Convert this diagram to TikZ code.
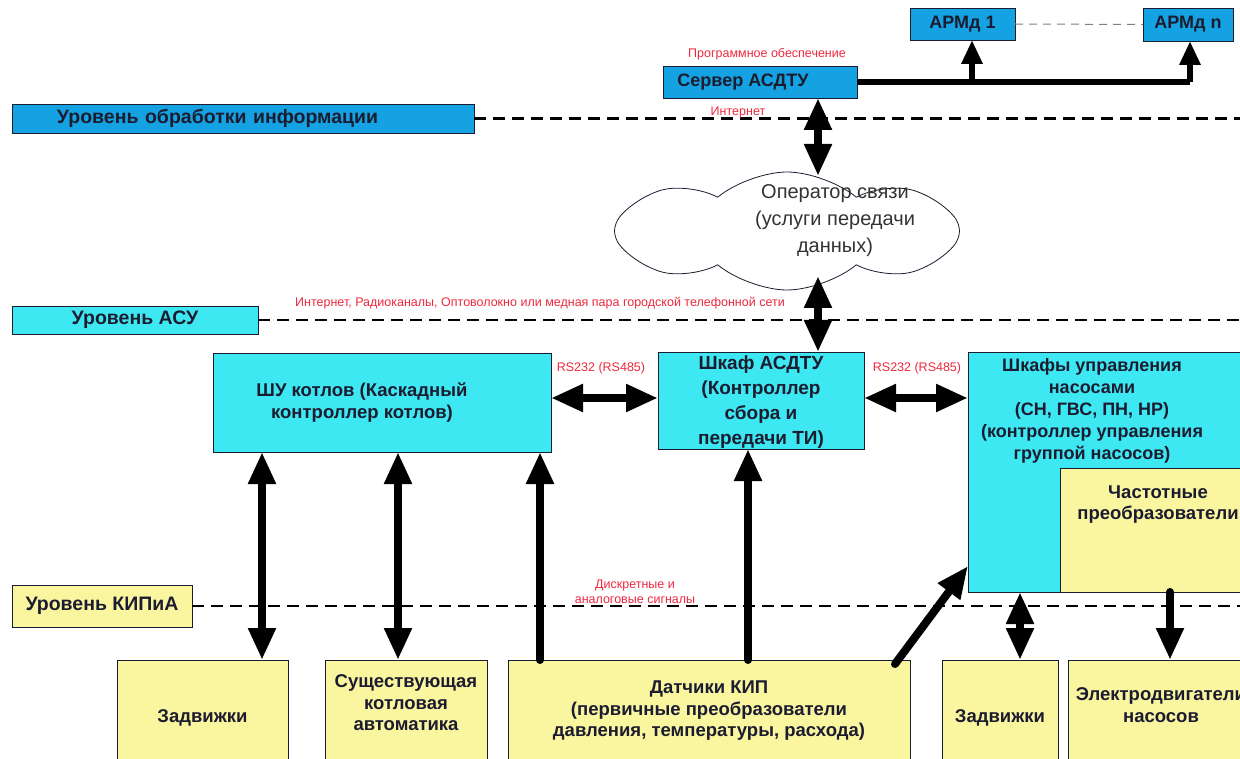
\documentclass[tikz,border=0pt]{standalone}
\usepackage{fontspec}
\setmainfont{Liberation Sans}
\usetikzlibrary{arrows.meta,shapes.symbols,calc}
\definecolor{bl}{RGB}{20,162,226}
\definecolor{cy}{RGB}{62,232,242}
\definecolor{ye}{RGB}{250,246,160}
\definecolor{rd}{RGB}{238,40,62}
\definecolor{ink}{RGB}{28,28,48}
\begin{document}
\begin{tikzpicture}[x=1pt,y=-1pt,
  box/.style={draw=ink, line width=0.9pt, inner sep=0pt, outer sep=0pt, text=ink,
    font=\bfseries\fontsize{18}{22}\selectfont, align=center},
  levbox/.style={box, font=\bfseries\fontsize{19.5}{22}\selectfont},
  lbl/.style={text=ink, font=\bfseries\fontsize{18.5}{21.5}\selectfont, align=center},
  red/.style={text=rd, font=\fontsize{12.5}{15}\selectfont, align=center, inner sep=0pt},
  lvl/.style={line width=2.5pt, dash pattern=on 12pt off 7pt, black},
  fat/.style={line width=8pt, line cap=round, -{Triangle[width=26pt,length=32pt]}},
  fatd/.style={line width=8pt, {Triangle[width=26pt,length=32pt]}-{Triangle[width=26pt,length=32pt]}},
  thin/.style={line width=6pt, -{Triangle[width=20pt,length=24pt]}}
]
\useasboundingbox (0,0) rectangle (1240,759);
\clip (0,0) rectangle (1240,759);

% columns / rows
\coordinate (rt) at (1240,0);
\coordinate (cx) at (818,0);
\coordinate (a1x) at (972,0);
\coordinate (anx) at (1190,0);
\coordinate (h1) at (0,398);
\coordinate (c1) at (262,0);
\coordinate (c2) at (398,0);
\coordinate (c3) at (540,0);
\coordinate (c4) at (748,0);
\coordinate (c5) at (1020,0);
\coordinate (c6) at (1170,0);

% level boxes
\node[levbox, fill=bl, minimum width=462pt, minimum height=29pt, text width=462pt, align=left] (lev1) at (243,118.5) {\hspace*{45pt}Уровень обработки информации};
\node[levbox, fill=cy, minimum width=246pt, minimum height=28pt] (levasu) at (135,320) {Уровень АСУ};
\node[levbox, fill=ye, minimum width=180pt, minimum height=42pt] (levkip) at (102,606) {Уровень КИПиА};

% dashed level lines
\draw[lvl] (lev1.east) -- (lev1.east -| rt);
\draw[lvl] (levasu.east) -- (levasu.east -| rt);
\draw[lvl] (levkip.east) -- (levkip.east -| rt);

% top
\node[box, fill=bl, minimum width=105pt, minimum height=32pt] (arm1) at (962.5,24) {АРМд 1};
\node[box, fill=bl, minimum width=90pt, minimum height=33pt] (armn) at (1188,24.5) {АРМд n};
\draw[gray, line width=1pt, dash pattern=on 8pt off 6pt] (arm1.east) -- (armn.west);
\node[box, fill=bl, minimum width=194pt, minimum height=32pt] (srv) at (760,82) {\hspace*{-34pt}Сервер АСДТУ};
\draw[line width=6pt] (srv.east) -- (srv.east -| anx);
\draw[thin] (srv.east -| a1x) -- (arm1.south -| a1x);
\draw[thin] (srv.east -| anx) -- (armn.south -| anx);

\node[red] (lsoft) at (767,54) {Программное обеспечение};
\node[red] (linet) at (738,112) {Интернет};

% cloud
\node[cloud, draw=ink, line width=0.8pt, fill=white, cloud puffs=8, cloud puff arc=80, aspect=3,
  minimum width=345pt, minimum height=118pt, inner sep=0pt,
  label={[text=black!80, font=\fontsize{20}{27}\selectfont, align=center, xshift=48pt, yshift=10pt]center:Оператор связи\\(услуги передачи\\данных)}] (cloud) at (787,231) {};

\node[red] (lnet) at (540,303) {Интернет, Радиоканалы, Оптоволокно или медная пара городской телефонной сети};

% ASU level boxes
\node[box, fill=cy, minimum width=338pt, minimum height=99pt,
  label={[lbl, xshift=-20pt]center:ШУ котлов (Каскадный\\контроллер котлов)}] (shu) at (382,402.5) {};
\node[box, fill=cy, minimum width=206pt, minimum height=97pt,
  label={[lbl, font=\bfseries\fontsize{19}{25}\selectfont, yshift=-2pt]center:Шкаф АСДТУ\\(Контроллер\\сбора и\\передачи ТИ)}] (shk) at (761,400.5) {};
\node[box, fill=cy, minimum width=282pt, minimum height=240pt,
  label={[lbl, font=\bfseries\fontsize{18}{22}\selectfont, anchor=north, xshift=-17pt, yshift=-3pt]north:Шкафы управления\\насосами\\(СН, ГВС, ПН, НР)\\(контроллер управления\\группой насосов)}] (pumps) at (1109,472) {};
\node[box, fill=ye, minimum width=190pt, minimum height=124pt,
  label={[lbl, anchor=north, xshift=3pt, yshift=-14pt]north:Частотные\\преобразователи}] (freq) at (1155,530) {};

\node[red] (lrs1) at (601,368) {RS232 (RS485)};
\node[red] (lrs2) at (917,368) {RS232 (RS485)};
\node[red] (lsig) at (635,592) {Дискретные и\\аналоговые сигналы};

% bottom boxes
\node[box, fill=ye, minimum width=171pt, minimum height=116pt,
  label={[lbl]center:Задвижки}] (zad1) at (202.5,718) {};
\node[box, fill=ye, minimum width=162pt, minimum height=116pt,
  label={[lbl, yshift=15pt]center:Существующая\\котловая\\автоматика}] (sush) at (406,718) {};
\node[box, fill=ye, minimum width=402pt, minimum height=116pt,
  label={[lbl, yshift=7pt]center:Датчики КИП\\(первичные преобразователи\\давления, температуры, расхода)}] (dat) at (709,718) {};
\node[box, fill=ye, minimum width=116pt, minimum height=116pt,
  label={[lbl]center:Задвижки}] (zad2) at (1000,718) {};
\node[box, fill=ye, minimum width=182pt, minimum height=116pt,
  label={[lbl, yshift=13pt, xshift=2pt]center:Электродвигатели\\насосов}] (elec) at (1159,718) {};

% connectors
\draw[fatd] (srv.south -| cx) -- ($(srv.south -| cx)+(0,78)$);
\draw[fatd] ($(shk.north -| cx)+(0,-76)$) -- (shk.north -| cx);
\draw[fatd] (shu.east |- h1) -- (shk.west |- h1);
\draw[fatd] (shk.east |- h1) -- (pumps.west |- h1);
\draw[fatd] (shu.south -| c1) -- (zad1.north -| c1);
\draw[fatd] (shu.south -| c2) -- (sush.north -| c2);
\draw[fat] (dat.north -| c3) -- (shu.south -| c3);
\draw[fat] (dat.north -| c4) -- (shk.south -| c4);
\draw[fat] ($(dat.north east)+(-15,4)$) -- ($(pumps.south west)+(0,-26)$);
\draw[fatd] (pumps.south -| c5) -- (zad2.north -| c5);
\draw[fat] (freq.south -| c6) -- (elec.north -| c6);
\end{tikzpicture}
\end{document}
